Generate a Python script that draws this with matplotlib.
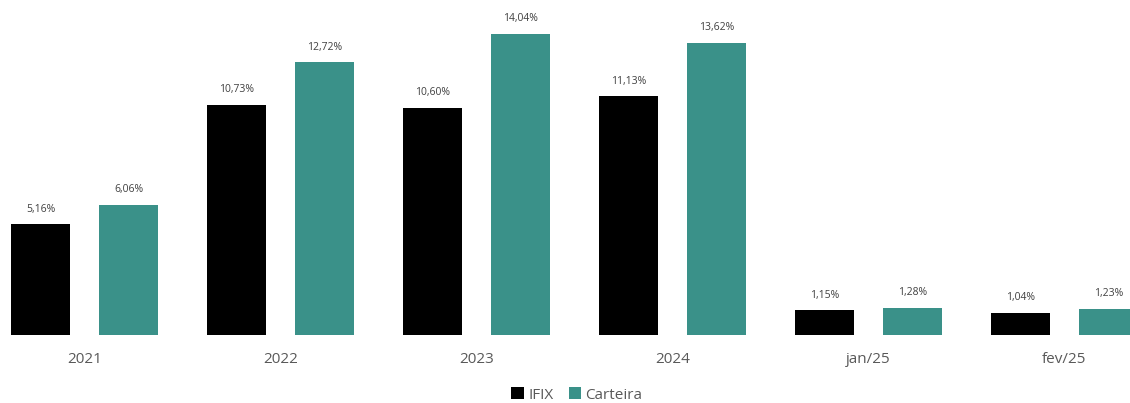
import matplotlib.pyplot as plt
import numpy as np

categorias = ['2021', '2022', '2023', '2024', 'jan/25', 'fev/25']
ifix = [5.16, 10.73, 10.60, 11.13, 1.15, 1.04]
carteira = [6.06, 12.72, 14.04, 13.62, 1.28, 1.23]
series = ['IFIX', 'Carteira']

cor_ifix = '#000000'
cor_cart = '#3a9189'
cor_texto = '#595959'

plt.rcParams['font.family'] = ['Open Sans', 'DejaVu Sans']

fig = plt.figure(figsize=(11.3, 4.03), dpi=100)
ax = fig.add_axes([0, 68 / 403, 1, 321.6 / 403])

x = np.arange(len(categorias))
w = 0.301
off = 0.2245
b1 = ax.bar(x - off, ifix, w, color=cor_ifix, label=series[0])
b2 = ax.bar(x + off, carteira, w, color=cor_cart, label=series[1])

for bars, vals in ((b1, ifix), (b2, carteira)):
    for b, v in zip(bars, vals):
        ax.annotate(f'{v:.2f}%'.replace('.', ','),
                    (b.get_x() + b.get_width() / 2, v),
                    xytext=(0, 7), textcoords='offset points',
                    ha='center', va='bottom', fontsize=7.5, color='#404040')

ax.set_xlim(-84.5 / 196, (1130 - 84.5) / 196)
ax.set_ylim(0, 15)
ax.set_yticks([])
ax.set_xticks(x)
ax.set_xticklabels(categorias, fontsize=11, color=cor_texto)
ax.tick_params(axis='x', length=0, pad=12)
for s in ax.spines.values():
    s.set_visible(False)

leg = fig.legend(handles=[b1, b2], labels=series, loc='center',
                 bbox_to_anchor=(577 / 1130, 1 - 395 / 403), ncol=2,
                 frameon=False, fontsize=11, handlelength=0.8,
                 handleheight=0.8, handletextpad=0.3, columnspacing=1.0)
for t in leg.get_texts():
    t.set_color(cor_texto)

fig.savefig('out.png', dpi=100)
